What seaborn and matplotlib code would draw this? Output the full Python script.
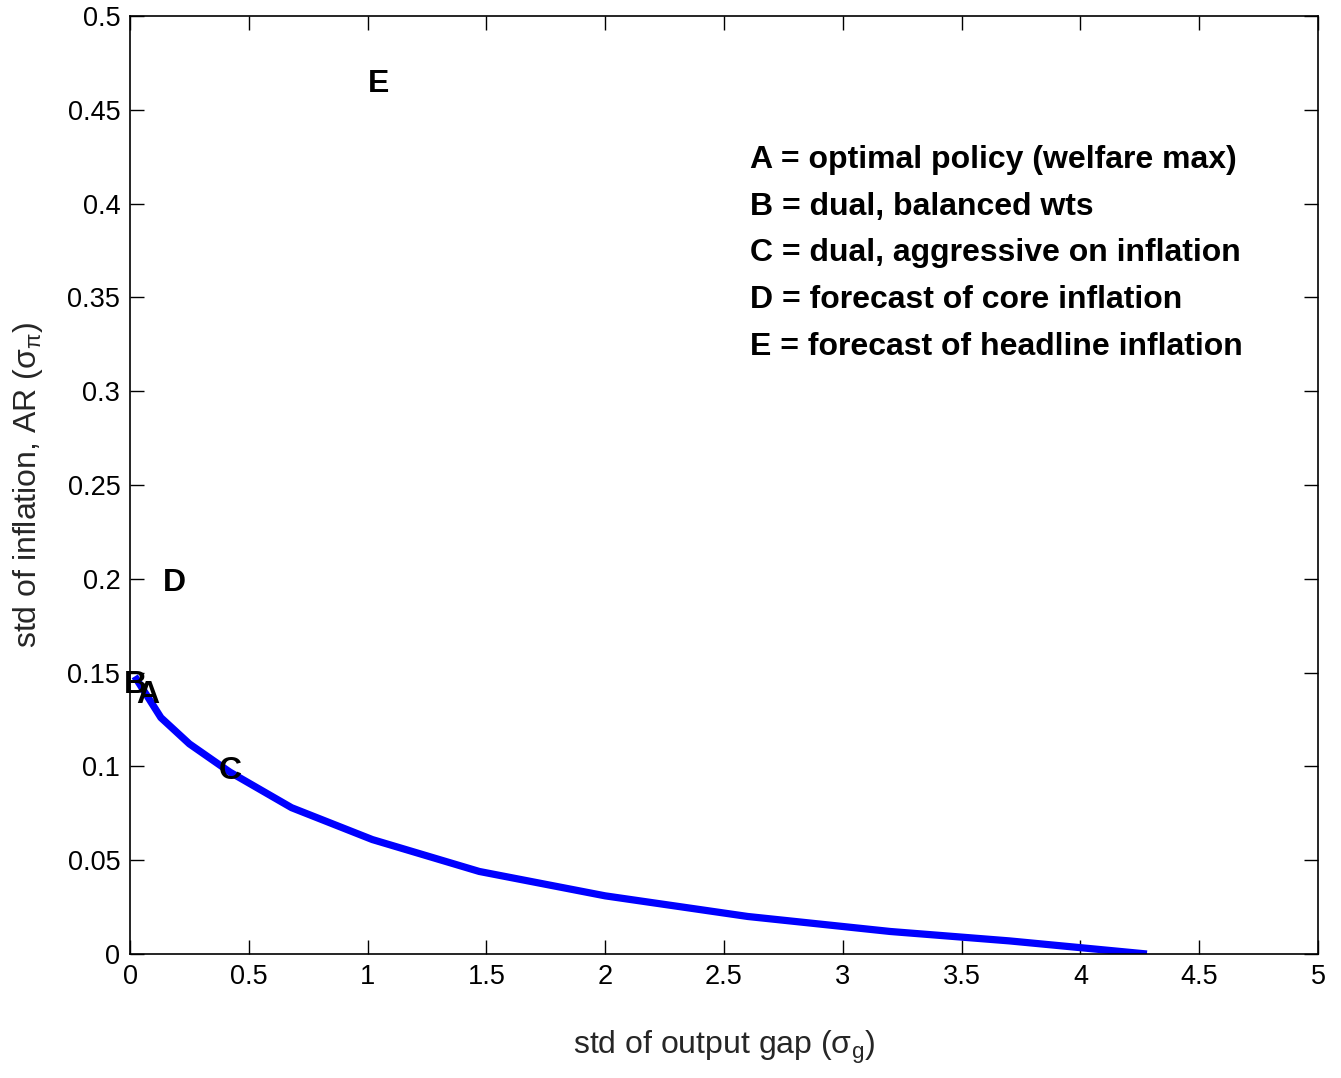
import matplotlib
matplotlib.use("Agg")
import matplotlib.pyplot as plt
import seaborn as sns
import pandas as pd

# frontier data
sigma_g = [0.02, 0.07, 0.13, 0.25, 0.42, 0.68, 1.02, 1.47, 2.0, 2.6, 3.2, 3.7, 4.28]
sigma_pi = [0.148, 0.138, 0.126, 0.112, 0.097, 0.078, 0.061, 0.044, 0.031, 0.020, 0.012, 0.007, 0.0]

# policy points (letters)
point_labels = ["B", "A", "C", "D", "E"]
point_x = [0.021, 0.076, 0.421, 0.189, 1.048]
point_y = [0.1391, 0.1338, 0.0933, 0.1935, 0.4595]

legend_lines = [
    "A = optimal policy (welfare max)",
    "B = dual, balanced wts",
    "C = dual, aggressive on inflation",
    "D = forecast of core inflation",
    "E = forecast of headline inflation",
]

x_ticks = [0, 0.5, 1, 1.5, 2, 2.5, 3, 3.5, 4, 4.5, 5]
x_ticklabels = ["0", "0.5", "1", "1.5", "2", "2.5", "3", "3.5", "4", "4.5", "5"]
y_ticks = [0, 0.05, 0.1, 0.15, 0.2, 0.25, 0.3, 0.35, 0.4, 0.45, 0.5]
y_ticklabels = ["0", "0.05", "0.1", "0.15", "0.2", "0.25", "0.3", "0.35", "0.4", "0.45", "0.5"]

sns.set_style("ticks")
plt.rcParams["font.family"] = ["Liberation Sans", "DejaVu Sans"]
plt.rcParams["mathtext.fontset"] = "custom"
plt.rcParams["mathtext.rm"] = "Liberation Sans"
plt.rcParams["mathtext.it"] = "Liberation Sans"

fig = plt.figure(figsize=(13.41, 10.78), dpi=100)
ax = fig.add_axes([130 / 1341, 124 / 1078, 1188 / 1341, 938 / 1078])

df = pd.DataFrame({"g": sigma_g, "pi": sigma_pi})
sns.lineplot(data=df, x="g", y="pi", ax=ax, color="#0000ff", linewidth=5.2,
             sort=False, estimator=None, solid_capstyle="butt")

for lab, x, y in zip(point_labels, point_x, point_y):
    ax.text(x, y, lab, ha="center", va="baseline", fontsize=23,
            fontweight="bold", color="black")

leg_x = 2.609
leg_y0 = 0.419
leg_dy = 0.0249
for i, line in enumerate(legend_lines):
    ax.text(leg_x, leg_y0 - i * leg_dy, line, ha="left", va="baseline",
            fontsize=23, fontweight="bold", color="black")

ax.set_xlim(0, 5)
ax.set_ylim(0, 0.5)
ax.set_xticks(x_ticks)
ax.set_xticklabels(x_ticklabels)
ax.set_yticks(y_ticks)
ax.set_yticklabels(y_ticklabels)
ax.tick_params(direction="in", length=10, width=1, labelsize=19.5,
               top=True, right=True, colors="black", pad=7)
for s in ax.spines.values():
    s.set_visible(True)
    s.set_linewidth(1.2)
    s.set_color("black")

ax.set_xlabel("std of output gap (σ$_{g}$)", fontsize=23, labelpad=28)
ax.set_ylabel("std of inflation, AR (σ$_{π}$)", fontsize=23, labelpad=16)

fig.savefig("out.png", dpi=100, facecolor="white")
